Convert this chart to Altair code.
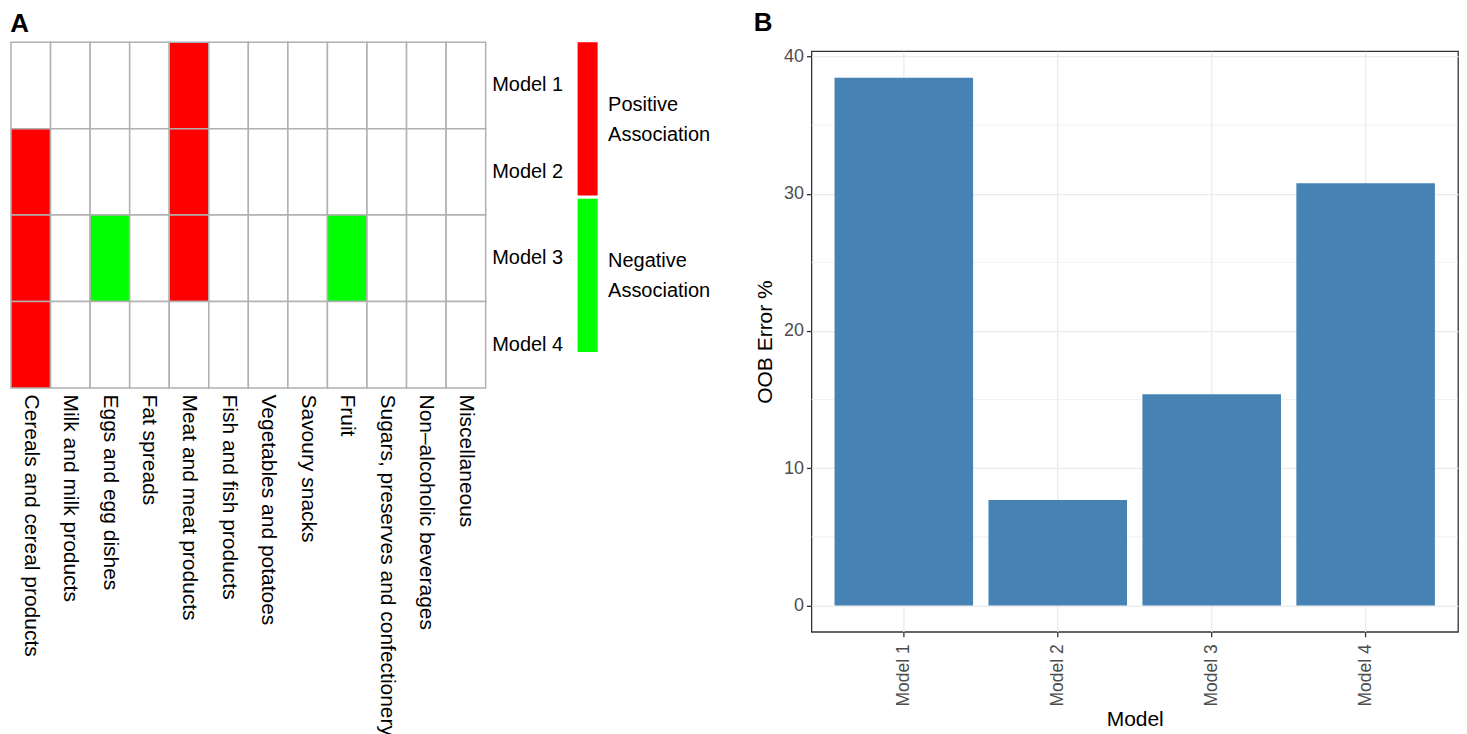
import altair as alt
import pandas as pd

categories = [
    "Cereals and cereal products",
    "Milk and milk products",
    "Eggs and egg dishes",
    "Fat spreads",
    "Meat and meat products",
    "Fish and fish products",
    "Vegetables and potatoes",
    "Savoury snacks",
    "Fruit",
    "Sugars, preserves and confectionery",
    "Non\u2013alcoholic beverages",
    "Miscellaneous",
]
models = ["Model 1", "Model 2", "Model 3", "Model 4"]

# 1 = positive association, -1 = negative association, 0 = none
model1_assoc = [0, 0, 0, 0, 1, 0, 0, 0, 0, 0, 0, 0]
model2_assoc = [1, 0, 0, 0, 1, 0, 0, 0, 0, 0, 0, 0]
model3_assoc = [1, 0, -1, 0, 1, 0, 0, 0, -1, 0, 0, 0]
model4_assoc = [1, 0, 0, 0, 0, 0, 0, 0, 0, 0, 0, 0]

legend_labels = ["Positive Association", "Negative Association"]

oob_error = [38.46, 7.69, 15.38, 30.77]
minor_grid = [5, 15, 25, 35]
y_ticks = [0, 10, 20, 30, 40]

FONT = "Liberation Sans"
RED = "#FF0000"
GREEN = "#00FF00"

assoc_name = {1: "Positive", 0: "None", -1: "Negative"}
rows = []
for m, vals in zip(models, [model1_assoc, model2_assoc, model3_assoc, model4_assoc]):
    for c, v in zip(categories, vals):
        rows.append({"category": c, "model": m, "assoc": assoc_name[v]})
heat_df = pd.DataFrame(rows)
legend_df = pd.DataFrame({"label": legend_labels})
bar_df = pd.DataFrame({"model": models, "oob": oob_error})
minor_df = pd.DataFrame({"oob": minor_grid})
spacer_df = pd.DataFrame({"s": [0]})

heat = alt.Chart(heat_df).mark_rect(stroke="#b0b0b0", strokeWidth=1.5).encode(
    x=alt.X("category:N", sort=categories,
            scale=alt.Scale(paddingInner=0, paddingOuter=0),
            axis=alt.Axis(title=None, orient="bottom", labelAngle=90, labelAlign="left",
                          labelBaseline="middle", labelFontSize=21, labelColor="#000000",
                          labelPadding=6, ticks=False, domain=False, labelLimit=500)),
    y=alt.Y("model:N", sort=models,
            scale=alt.Scale(paddingInner=0, paddingOuter=0),
            axis=alt.Axis(title=None, orient="right", labelFontSize=20, labelColor="#000000",
                          labelPadding=6, ticks=False, domain=False)),
    fill=alt.Fill("assoc:N",
                  scale=alt.Scale(domain=["Positive", "None", "Negative"],
                                  range=[RED, "#FFFFFF", GREEN]),
                  legend=None),
).properties(width=475, height=346, view=alt.ViewBackground(strokeOpacity=0))

legend = alt.Chart(legend_df).mark_rect().encode(
    y=alt.Y("label:N", sort=legend_labels,
            scale=alt.Scale(paddingInner=0.02, paddingOuter=0),
            axis=alt.Axis(title=None, orient="right", labelExpr="split(datum.label, ' ')",
                          labelFontSize=20, labelLineHeight=30, labelPadding=10,
                          labelOffset=-14,
                          labelAlign="left", ticks=False, domain=False, labelColor="#000000")),
    fill=alt.Fill("label:N", scale=alt.Scale(domain=legend_labels, range=[RED, GREEN]),
                  legend=None),
).properties(width=20, height=310, view=alt.ViewBackground(strokeOpacity=0))

panel_a = alt.hconcat(heat, legend, spacing=14).resolve_scale(
    fill="independent", y="independent"
).properties(
    title=alt.Title("A", anchor="start", fontSize=26, fontWeight="bold", offset=4, color="#000000")
)

y_axis = alt.Axis(title="OOB Error %", values=y_ticks,
                  labelFontSize=18, labelColor="#4d4d4d", labelPadding=3,
                  tickSize=5, tickColor="#333333", tickWidth=1.3, domain=False,
                  grid=True, gridColor="#ebebeb", gridWidth=1.3,
                  titleFontSize=21, titleFontWeight="normal", titleColor="#000000",
                  titlePadding=8)
y_scale = alt.Scale(domain=[-1.923, 40.385], nice=False, zero=False)

minor = alt.Chart(minor_df).mark_rule(color="#ebebeb", strokeWidth=0.7).encode(
    y=alt.Y("oob:Q", scale=y_scale, axis=y_axis)
)

bars = alt.Chart(bar_df).mark_bar(color="#4682B4").encode(
    x=alt.X("model:N", sort=models,
            scale=alt.Scale(paddingInner=0.1, paddingOuter=0.15),
            axis=alt.Axis(title="Model", labelAngle=270, labelAlign="right", labelBaseline="middle",
                          labelFontSize=17.5, labelColor="#4d4d4d", labelPadding=7,
                          tickSize=5, tickColor="#333333", tickWidth=1.3, domain=False,
                          grid=True, gridColor="#ebebeb", gridWidth=1.3,
                          titleFontSize=21, titleFontWeight="normal", titleColor="#000000",
                          titlePadding=2)),
    y=alt.Y("oob:Q", scale=y_scale, axis=y_axis),
)

bar_panel = alt.layer(minor, bars).properties(width=647, height=581)

# invisible spacer that pushes panel B's plot area a little lower than panel A's
spacer = alt.Chart(spacer_df).mark_point(opacity=0).encode(
    x=alt.X("s:Q", axis=None), y=alt.Y("s:Q", axis=None)
).properties(width=647, height=1, view=alt.ViewBackground(strokeOpacity=0))

panel_b = alt.vconcat(spacer, bar_panel, spacing=0).resolve_scale(
    x="independent", y="independent"
).properties(
    title=alt.Title("B", anchor="start", fontSize=26, fontWeight="bold", offset=4, color="#000000"),
)

chart = alt.concat(panel_a, panel_b, columns=2, spacing=43).resolve_scale(
    x="independent", y="independent", fill="independent"
).properties(
    padding={"left": 2, "top": 1, "right": 0, "bottom": 0}
).configure(
    font=FONT
).configure_view(
    stroke="#333333", strokeWidth=1.3
)

chart.save("out.html", embed_options={"renderer": "svg", "actions": False})
